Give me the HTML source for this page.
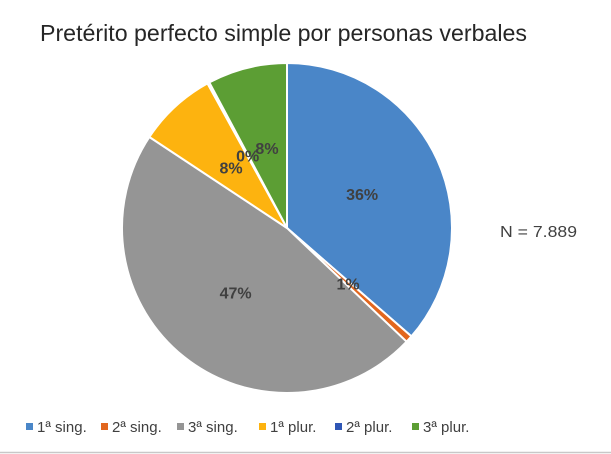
<!DOCTYPE html>
<html><head><meta charset="utf-8"><style>
body{margin:0;background:#fff;font-family:"Liberation Sans",sans-serif}
svg{display:block}
</style></head><body>
<svg width="611" height="454">
<rect x="0" y="0" width="611" height="454" fill="#fff"/>
<line x1="0" y1="452.5" x2="611" y2="452.5" stroke="#c8c8c8" stroke-width="1.5"/>
<text x="40" y="41" font-size="23" textLength="487" lengthAdjust="spacingAndGlyphs" fill="#262626">Pretérito perfecto simple por personas verbales</text>
<text x="500" y="237" font-size="16" textLength="77" lengthAdjust="spacingAndGlyphs" fill="#404040">N = 7.889</text>
<g id="slices"></g>
<g id="labels"></g>
<g id="legend"></g>
</svg>
<script>
const categories=["1ª sing.","2ª sing.","3ª sing.","1ª plur.","2ª plur.","3ª plur."];
const values=[36.4,0.7,47.2,7.7,0.2,7.8];
const valueLabels=["36%","1%","47%","8%","0%","8%"];
const colors=["#4a86c8","#e2661e","#959595","#fdb30f","#2f56b5","#5c9e34"];
const NS="http://www.w3.org/2000/svg";
const cx=287,cy=228,r=165;
const total=values.reduce((a,b)=>a+b,0);
function pt(f,rad){const a=f*2*Math.PI;return [cx+rad*Math.sin(a),cy-rad*Math.cos(a)];}
let acc=0;
const sg=document.getElementById('slices'),lg=document.getElementById('labels');
values.forEach((v,i)=>{
 const f0=acc/total,f1=(acc+v)/total;acc+=v;
 const [x0,y0]=pt(f0,r),[x1,y1]=pt(f1,r);
 const p=document.createElementNS(NS,'path');
 p.setAttribute('d',`M${cx},${cy}L${x0},${y0}A${r},${r} 0 ${(f1-f0)>0.5?1:0} 1 ${x1},${y1}Z`);
 p.setAttribute('fill',colors[i]);p.setAttribute('stroke','#fff');p.setAttribute('stroke-width','2');
 
 
 sg.appendChild(p);
 const [lx,ly]=pt((f0+f1)/2,r*0.5);
 const t=document.createElementNS(NS,'text');
 t.setAttribute('x',lx);t.setAttribute('y',ly+6);t.setAttribute('text-anchor','middle');
 t.setAttribute('font-size','16');t.setAttribute('font-weight','bold');t.setAttribute('fill','#404040');
 t.textContent=valueLabels[i];
 
 
 lg.appendChild(t);
});
const leg=document.getElementById('legend');
const lx=[26,101,177,259,335,412];
categories.forEach((c,i)=>{
 const g=document.createElementNS(NS,'g');
 
 
 const s=document.createElementNS(NS,'rect');
 s.setAttribute('x',lx[i]);s.setAttribute('y',423);s.setAttribute('width',7);s.setAttribute('height',7);s.setAttribute('fill',colors[i]);
 const t=document.createElementNS(NS,'text');
 t.setAttribute('x',lx[i]+11);t.setAttribute('y',432);t.setAttribute('font-size','15');t.setAttribute('fill','#404040');
 t.textContent=c;
 g.appendChild(s);g.appendChild(t);leg.appendChild(g);
});
</script>
</body></html>
